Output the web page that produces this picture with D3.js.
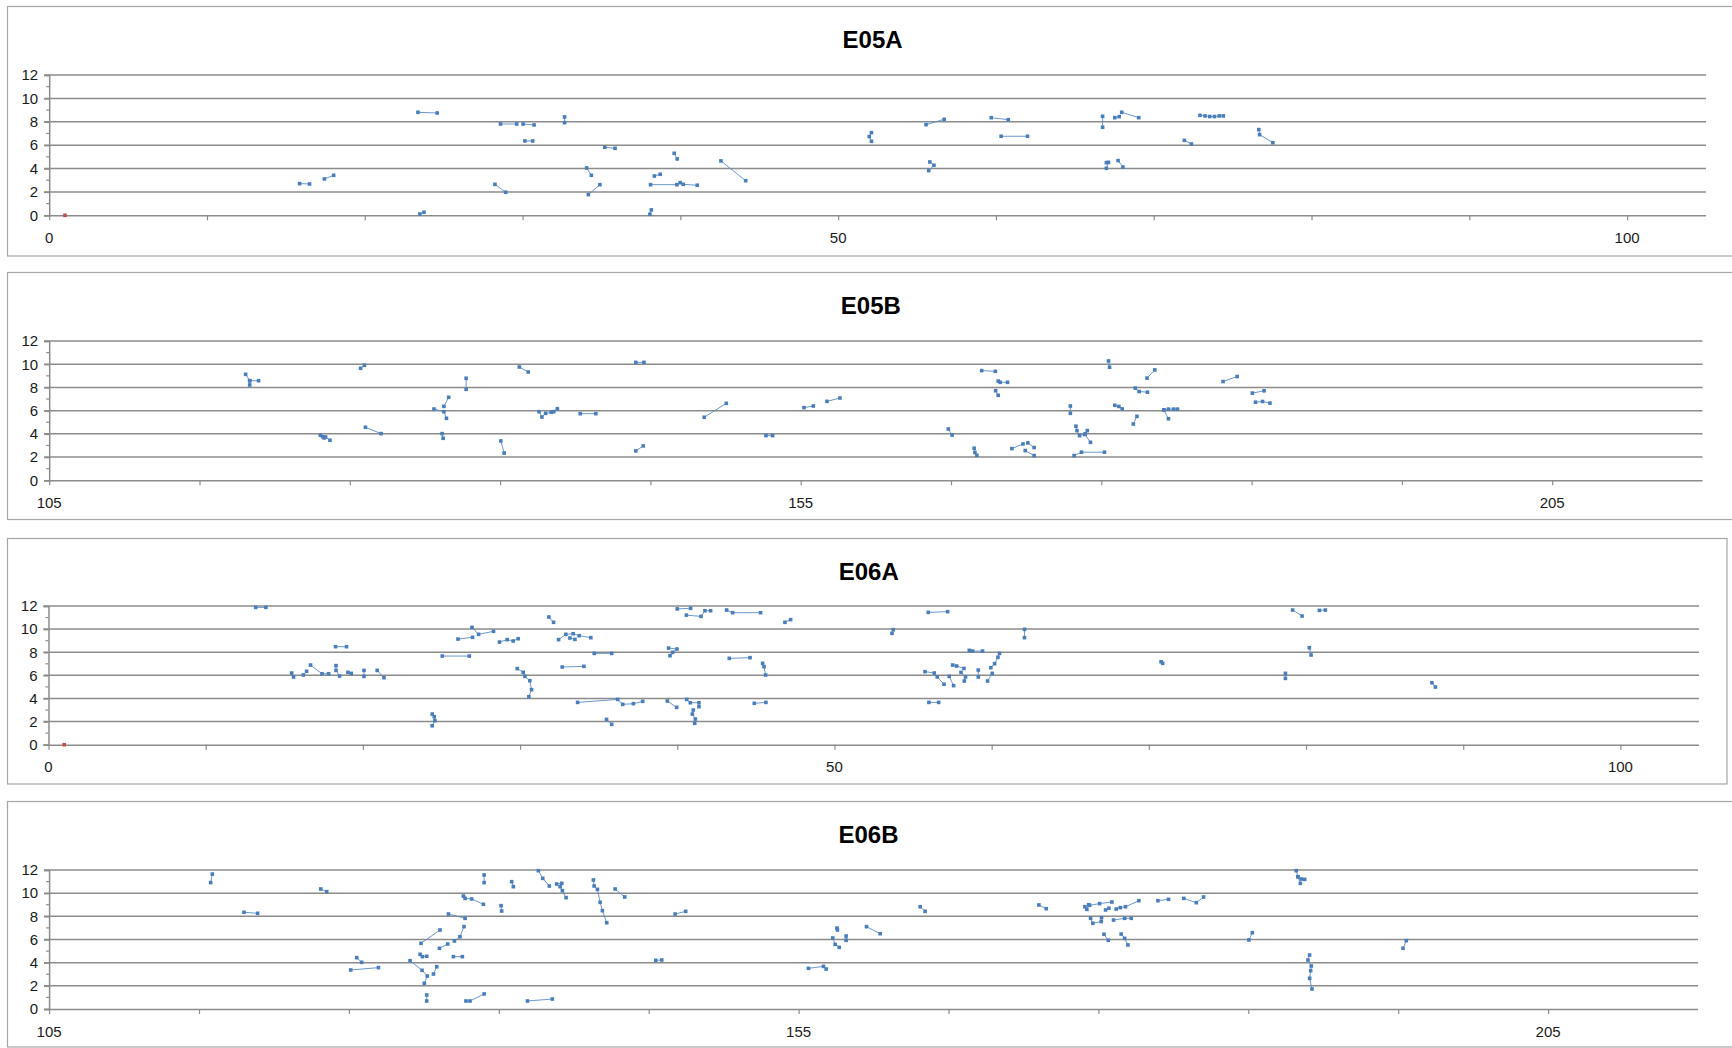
<!DOCTYPE html>
<html>
<head>
<meta charset="utf-8">
<script src="https://cdn.jsdelivr.net/npm/d3@7"></script>
<style>
  html, body { margin: 0; padding: 0; background: #ffffff; }
  svg { display: block; }
</style>
</head>
<body>
<svg id="chart" width="1732" height="1048"></svg>
<script>
// ---------------- DATA ----------------
const panelTitles = ["E05A", "E05B", "E06A", "E06B"];
const yTicks = [0, 2, 4, 6, 8, 10, 12];
const yMinorTicks = [1, 3, 5, 7, 9, 11];
const xTicksA = [0, 10, 20, 30, 40, 50, 60, 70, 80, 90, 100];
const xLabelsA = [0, 50, 100];
const xTicksB = [105, 115, 125, 135, 145, 155, 165, 175, 185, 195, 205];
const xLabelsB = [105, 155, 205];
const xDomainA = [0, 105];
const xDomainB = [105, 215];
const redPoint = [[1, 0]];

// each series = one connected run of readings [x, y]
const e05a = [
  [[15.87,2.71],[16.5,2.68]],
  [[17.44,3.11],[18.03,3.42]],
  [[23.37,8.81],[24.59,8.75]],
  [[23.49,0.11],[23.75,0.26]],
  [[28.25,2.65],[28.93,1.97]],
  [[28.6,7.81],[29.63,7.81]],
  [[30.03,7.81],[30.73,7.73]],
  [[30.15,6.36],[30.64,6.36]],
  [[32.66,8.41],[32.66,7.92]],
  [[34.06,4.05],[34.36,3.42]],
  [[34.17,1.77],[34.9,2.62]],
  [[35.21,5.82],[35.86,5.73]],
  [[38.35,3.36],[38.72,3.51]],
  [[38.11,2.62],[39.78,2.62],[39.99,2.79],[40.18,2.65],[41.07,2.57]],
  [[38.07,0.09],[38.16,0.46]],
  [[39.61,5.3],[39.8,4.82]],
  [[42.57,4.65],[44.14,2.96]],
  [[52.11,7.07],[51.97,6.73],[52.11,6.33]],
  [[55.57,7.75],[56.72,8.21]],
  [[55.81,4.56],[56.07,4.28],[55.74,3.82]],
  [[59.7,8.35],[60.78,8.18]],
  [[60.33,6.76],[62.0,6.76]],
  [[66.76,8.47],[66.76,7.53]],
  [[67.0,4.5],[67.13,4.53],[67.0,4.02]],
  [[67.74,4.68],[68.05,4.13]],
  [[67.53,8.35],[67.81,8.44]],
  [[67.97,8.81],[69.05,8.35]],
  [[71.94,6.41],[72.39,6.1]],
  [[72.93,8.55],[73.25,8.5],[73.55,8.45],[73.85,8.45],[74.15,8.5],[74.41,8.5]],
  [[76.66,7.33],[76.71,6.9],[77.55,6.21]]
];

const e05b = [
  [[118.07,9.13],[118.34,8.58],[118.34,8.21]],
  [[118.34,8.58],[118.93,8.58]],
  [[123.04,3.88],[123.19,3.76],[123.29,3.65],[123.39,3.73],[123.68,3.45]],
  [[125.72,9.65],[125.97,9.91]],
  [[126.04,4.57],[127.08,4.02]],
  [[130.6,6.14],[131.26,5.91],[131.43,5.34]],
  [[131.26,6.37],[131.58,7.15]],
  [[131.14,4.02],[131.21,3.62]],
  [[132.74,8.79],[132.74,7.84]],
  [[135.05,3.39],[135.27,2.35]],
  [[136.28,9.76],[136.87,9.33]],
  [[137.59,5.91],[137.78,5.45],[138.03,5.77],[138.4,5.86],[138.57,5.91],[138.81,6.17]],
  [[140.33,5.74],[141.37,5.74]],
  [[144.03,10.16],[144.57,10.16]],
  [[144.03,2.53],[144.52,2.96]],
  [[148.58,5.43],[150.05,6.63]],
  [[152.69,3.85],[153.13,3.85]],
  [[155.22,6.26],[155.84,6.4]],
  [[156.75,6.8],[157.61,7.09]],
  [[164.82,4.42],[165.07,3.9]],
  [[166.54,2.76],[166.59,2.4],[166.72,2.15]],
  [[167.04,9.45],[167.95,9.39]],
  [[168.14,8.55],[168.27,8.44],[168.76,8.44]],
  [[167.97,7.72],[168.14,7.32]],
  [[169.05,2.73],[169.79,3.13]],
  [[170.11,3.22],[170.53,2.82]],
  [[169.94,2.56],[170.53,2.13]],
  [[172.94,6.4],[172.94,5.77]],
  [[173.31,4.66],[173.38,4.28],[173.55,3.85],[173.93,4.0],[174.07,4.28]],
  [[173.9,3.95],[174.28,3.27]],
  [[173.19,2.13],[173.68,2.42],[175.21,2.42]],
  [[175.48,10.28],[175.55,9.74]],
  [[175.9,6.46],[176.17,6.36],[176.39,6.15]],
  [[177.13,4.85],[177.37,5.51]],
  [[177.26,7.94],[177.52,7.65],[178.07,7.59]],
  [[178.04,8.8],[178.56,9.51]],
  [[179.16,6.07],[179.47,5.3]],
  [[179.16,6.07],[179.47,6.13],[179.81,6.13],[180.07,6.13]],
  [[183.1,8.51],[184.04,8.94]],
  [[185.05,7.51],[185.83,7.71]],
  [[185.26,6.73],[185.73,6.79],[186.22,6.65]]
];

const e06a = [
  [[13.18,11.88],[13.83,11.88]],
  [[15.47,6.2],[15.59,5.86]],
  [[16.21,6.03],[16.42,6.35]],
  [[16.67,6.89],[17.4,6.14],[17.82,6.14]],
  [[18.29,6.84],[18.29,6.43],[18.52,5.94]],
  [[19.05,6.26],[19.26,6.17]],
  [[20.07,6.43],[20.07,5.91]],
  [[20.91,6.43],[21.34,5.8]],
  [[18.26,8.48],[18.96,8.48]],
  [[24.41,2.65],[24.54,2.42],[24.58,2.08],[24.41,1.64]],
  [[25.05,7.67],[26.77,7.67]],
  [[26.05,9.14],[26.98,9.29]],
  [[26.94,10.15],[27.36,9.55],[28.31,9.81]],
  [[28.69,8.88],[29.18,9.09],[29.56,8.97],[29.88,9.17]],
  [[29.82,6.58],[30.2,6.26],[30.31,5.91],[30.62,5.54],[30.73,4.76],[30.56,4.15]],
  [[31.83,11.05],[32.13,10.59]],
  [[32.45,9.09],[32.91,9.55],[33.38,9.6],[33.76,9.43],[34.5,9.26]],
  [[33.17,9.23],[33.49,9.11]],
  [[32.68,6.72],[34.06,6.78]],
  [[33.66,3.66],[36.21,3.92],[36.53,3.49],[37.21,3.55],[37.8,3.75]],
  [[34.72,7.9],[35.83,7.9]],
  [[35.5,2.19],[35.83,1.76]],
  [[39.37,3.78],[39.96,3.23]],
  [[40.6,3.92],[40.83,3.63],[41.38,3.63],[41.38,3.29]],
  [[41.02,3.0],[40.96,2.65],[41.15,2.22],[41.11,1.85]],
  [[39.45,8.36],[39.98,8.28],[39.71,7.99],[39.54,7.7]],
  [[40.0,11.75],[40.85,11.8]],
  [[40.58,11.21],[41.51,11.1],[41.76,11.59],[42.12,11.59]],
  [[43.14,11.65],[43.52,11.42],[45.3,11.42]],
  [[46.85,10.59],[47.21,10.82]],
  [[43.31,7.47],[44.63,7.53]],
  [[45.43,7.04],[45.52,6.75],[45.62,6.03]],
  [[44.9,3.58],[45.64,3.66]],
  [[53.74,9.95],[53.66,9.63]],
  [[55.97,11.45],[57.2,11.51]],
  [[58.58,8.16],[58.79,8.1],[59.42,8.1]],
  [[60.5,7.9],[60.4,7.56],[60.19,7.01],[59.95,6.66]],
  [[60.04,6.17],[59.74,5.51]],
  [[55.76,6.32],[56.35,6.2],[56.54,5.86],[56.97,5.23]],
  [[57.3,5.91],[57.58,5.11]],
  [[57.52,6.89],[57.77,6.81],[58.24,6.6]],
  [[58.05,6.26],[58.34,5.86],[58.26,5.51]],
  [[59.15,6.46],[59.15,5.86]],
  [[56.01,3.66],[56.63,3.66]],
  [[62.09,9.98],[62.09,9.26]],
  [[70.78,7.18],[70.88,7.04]],
  [[78.69,6.17],[78.69,5.74]],
  [[79.15,11.65],[79.75,11.13]],
  [[80.85,11.62],[81.23,11.65]],
  [[80.21,8.39],[80.32,7.76]],
  [[88.01,5.36],[88.23,4.99]]
];

const e06b = [
  [[115.89,11.65],[115.78,10.91]],
  [[118.0,8.35],[118.91,8.26]],
  [[123.12,10.36],[123.52,10.13]],
  [[125.52,4.43],[125.85,4.03]],
  [[125.12,3.37],[126.97,3.57]],
  [[129.81,5.67],[131.08,6.82]],
  [[131.04,5.24],[131.59,5.61]],
  [[131.64,8.2],[132.75,7.83]],
  [[132.68,7.11],[132.41,6.24],[132.04,5.87]],
  [[131.97,4.52],[132.57,4.52]],
  [[132.64,9.75],[132.75,9.55],[133.19,9.5],[133.97,9.04]],
  [[134.02,11.57],[134.02,10.91]],
  [[135.86,10.99],[135.97,10.56]],
  [[135.15,8.92],[135.19,8.46]],
  [[137.64,11.94],[137.93,11.28],[138.37,10.62]],
  [[138.86,10.79],[139.2,10.85],[139.09,10.56],[139.24,10.22],[139.49,9.61]],
  [[141.31,11.14],[141.36,10.62],[141.58,10.33],[141.76,9.21],[141.91,8.49],[142.2,7.45]],
  [[130.19,1.21],[130.19,0.69]],
  [[132.81,0.69],[133.08,0.69],[134.02,1.3]],
  [[136.91,0.69],[138.57,0.86]],
  [[129.75,4.72],[129.9,4.52],[130.19,4.55]],
  [[129.08,4.17],[129.88,3.34],[130.23,2.85],[130.03,2.22]],
  [[130.64,3.02],[130.86,3.65]],
  [[142.76,10.36],[143.4,9.67]],
  [[145.47,4.2],[145.87,4.23]],
  [[146.76,8.2],[147.47,8.43]],
  [[155.66,3.51],[156.66,3.68],[156.84,3.45]],
  [[157.56,6.99],[157.59,6.82]],
  [[157.28,6.13],[157.44,5.58],[157.71,5.32]],
  [[158.17,6.3],[158.17,5.93]],
  [[159.53,7.11],[160.44,6.5]],
  [[163.11,8.83],[163.44,8.43]],
  [[171.03,8.98],[171.52,8.66]],
  [[174.1,8.83],[174.23,8.6],[174.35,9.0]],
  [[174.41,8.95],[175.08,9.1],[175.9,9.24]],
  [[175.48,8.55],[175.7,8.7]],
  [[176.19,8.63],[176.46,8.75],[176.81,8.83],[177.7,9.35]],
  [[174.48,7.83],[174.63,7.4],[175.19,7.55],[175.21,7.89]],
  [[176.01,7.68],[176.75,7.83],[177.19,7.83]],
  [[178.97,9.35],[179.68,9.47]],
  [[180.7,9.55],[181.53,9.18],[182.02,9.67]],
  [[175.37,6.45],[175.66,5.93]],
  [[176.52,6.47],[176.75,6.1],[176.97,5.53]],
  [[185.04,5.96],[185.27,6.59]],
  [[188.2,11.94],[188.31,11.42],[188.53,11.22],[188.76,11.19]],
  [[188.31,11.42],[188.47,10.85]],
  [[189.09,4.66],[188.98,4.23],[189.2,3.71],[189.16,3.31],[189.09,2.65],[189.25,1.73]],
  [[195.54,5.9],[195.32,5.24]]
];

// ---------------- LAYOUT ----------------
const layout = [
  { box: [7.5, 6.5, 1760, 256], titleY: 39, left: 49.2, right: 1706, top: 75, bottom: 215.3 },
  { box: [7.5, 272.5, 1760, 519.5], titleY: 305, left: 49.2, right: 1702.5, top: 341, bottom: 480.3 },
  { box: [7.5, 538.5, 1727, 784], titleY: 571, left: 48.5, right: 1699, top: 606, bottom: 744.7 },
  { box: [7.5, 801.5, 1760, 1047], titleY: 834, left: 49.1, right: 1698, top: 870, bottom: 1009 }
];
const panelData = [e05a, e05b, e06a, e06b];
const panelDomain = [xDomainA, xDomainB, xDomainA, xDomainB];
const panelTicks = [xTicksA, xTicksB, xTicksA, xTicksB];
const panelLabels = [xLabelsA, xLabelsB, xLabelsA, xLabelsB];
const panelRed = [true, false, true, false];

const BLUE = "#4a7ebb";
const LINE = "#5b8bc9";
const GRID = "#8c8c8c";
const FONT = "'Liberation Sans', Arial, sans-serif";

const svg = d3.select("#chart");

layout.forEach((L, i) => {
  const g = svg.append("g");
  // panel frame
  g.append("rect")
    .attr("x", L.box[0]).attr("y", L.box[1])
    .attr("width", L.box[2] - L.box[0]).attr("height", L.box[3] - L.box[1])
    .attr("fill", "#fff").attr("stroke", "#a6a6a6").attr("stroke-width", 1.2);

  // title
  g.append("text")
    .attr("x", (L.left + L.right) / 2 - 5).attr("y", L.titleY)
    .attr("text-anchor", "middle").attr("dominant-baseline", "central")
    .style("font-family", FONT).style("font-weight", "bold").style("font-size", "24px")
    .attr("fill", "#000").text(panelTitles[i]);

  const x = d3.scaleLinear().domain(panelDomain[i]).range([L.left, L.right]);
  const y = d3.scaleLinear().domain([0, 12]).range([L.bottom, L.top]);

  // gridlines
  g.append("g").selectAll("line").data(yTicks.filter(t => t > 0)).join("line")
    .attr("x1", L.left - 5).attr("x2", L.right)
    .attr("y1", d => y(d)).attr("y2", d => y(d))
    .attr("stroke", GRID).attr("stroke-width", 1.5);

  // y axis
  const yAxis = d3.axisLeft(y).tickValues(yTicks).tickSize(5).tickPadding(6).tickFormat(d3.format("d"));
  const ya = g.append("g").attr("transform", `translate(${L.left},0)`).call(yAxis);
  ya.select(".domain").attr("stroke", GRID).attr("stroke-width", 1.5);
  ya.selectAll(".tick line").attr("stroke", GRID).attr("stroke-width", 1.5);
  ya.selectAll(".tick text").style("font-family", FONT).style("font-size", "15px").attr("fill", "#1a1a1a");
  g.append("g").selectAll("line").data(yMinorTicks).join("line")
    .attr("x1", L.left - 3).attr("x2", L.left)
    .attr("y1", d => y(d)).attr("y2", d => y(d))
    .attr("stroke", GRID).attr("stroke-width", 1.2);

  // x axis
  const xa = g.append("g").attr("transform", `translate(0,${L.bottom})`)
    .call(d3.axisBottom(x).tickValues(panelTicks[i]).tickSize(5).tickFormat(""));
  xa.select(".domain").attr("stroke", GRID).attr("stroke-width", 1.5).attr("d", `M${L.left - 5},0.5H${L.right}`);
  xa.selectAll(".tick line").attr("stroke", GRID).attr("stroke-width", 1.2);
  g.append("g").selectAll("text").data(panelLabels[i]).join("text")
    .attr("x", d => x(d)).attr("y", L.bottom + 22)
    .attr("text-anchor", "middle").attr("dominant-baseline", "central")
    .style("font-family", FONT).style("font-size", "15px").attr("fill", "#1a1a1a")
    .text(d => d);

  // data
  const line = d3.line().x(d => x(d[0])).y(d => y(d[1]));
  const data = panelData[i];
  g.append("g").selectAll("path").data(data).join("path")
    .attr("d", line).attr("fill", "none").attr("stroke", LINE).attr("stroke-width", 0.9);
  const pts = data.flat();
  const ms = 3.6;
  g.append("g").selectAll("rect").data(pts).join("rect")
    .attr("x", d => x(d[0]) - ms / 2).attr("y", d => y(d[1]) - ms / 2)
    .attr("width", ms).attr("height", ms).attr("fill", BLUE);

  if (panelRed[i]) {
    g.append("g").selectAll("rect").data(redPoint).join("rect")
      .attr("x", d => x(d[0]) - ms / 2).attr("y", d => y(d[1]) - ms / 2)
      .attr("width", ms).attr("height", ms).attr("fill", "#c0504d");
  }
});
</script>
</body>
</html>
